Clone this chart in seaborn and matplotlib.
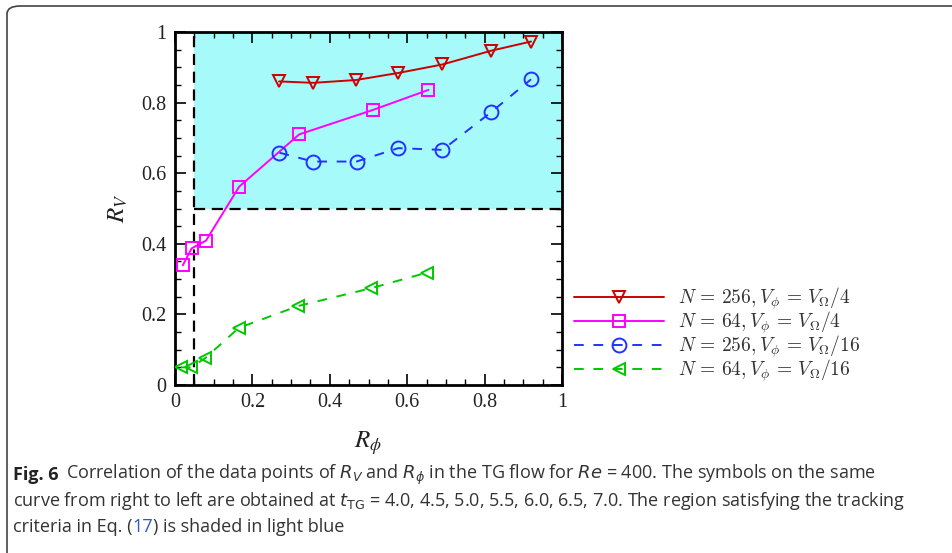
import numpy as np
import pandas as pd
import matplotlib
matplotlib.use("Agg")
import matplotlib.pyplot as plt
import seaborn as sns
from matplotlib.patches import FancyBboxPatch
from matplotlib.ticker import MultipleLocator, FuncFormatter

sns.set_theme(style="white")
plt.rcParams["font.family"] = ["Liberation Serif", "DejaVu Serif"]
plt.rcParams["mathtext.fontset"] = "stix"

# ---- data ----
red_x = [0.269, 0.357, 0.468, 0.577, 0.691, 0.817, 0.920]
red_y = [0.860, 0.856, 0.864, 0.884, 0.908, 0.947, 0.973]
mag_x = [0.020, 0.043, 0.080, 0.166, 0.321, 0.511, 0.655]
mag_y = [0.339, 0.387, 0.409, 0.562, 0.710, 0.779, 0.836]
blu_x = [0.270, 0.357, 0.469, 0.577, 0.691, 0.817, 0.920]
blu_y = [0.658, 0.633, 0.633, 0.671, 0.666, 0.773, 0.866]
grn_x = [0.015, 0.041, 0.078, 0.165, 0.319, 0.506, 0.650]
grn_y = [0.050, 0.050, 0.076, 0.162, 0.224, 0.274, 0.318]
labels = [r"$N\,=\,256, V_{\phi}\,=\,V_{\Omega}/4$",
          r"$N\,=\,64, V_{\phi}\,=\,V_{\Omega}/4$",
          r"$N\,=\,256, V_{\phi}\,=\,V_{\Omega}/16$",
          r"$N\,=\,64, V_{\phi}\,=\,V_{\Omega}/16$"]
x_thr = 0.05
y_thr = 0.5

fig = plt.figure(figsize=(9.52, 5.53), dpi=100)
ax = fig.add_axes([175/952, 1-385/553, 387/952, 353/553])

ax.fill_between([x_thr, 1.0], y_thr, 1.0, color="#a6fafa", zorder=0, lw=0)
ax.plot([x_thr, x_thr], [0, 1], color="black", lw=1.6, ls=(0, (5, 3)), zorder=1)
ax.plot([x_thr, 1], [y_thr, y_thr], color="black", lw=1.6, ls=(0, (5, 3)), zorder=1)

series = [
    (red_x, red_y, "#cc0000", "v", 9, "-"),
    (mag_x, mag_y, "#ff00ff", "s", 8, "-"),
    (blu_x, blu_y, "#2233ff", "o", 10, (0, (5, 5))),
    (grn_x, grn_y, "#00c800", "<", 9, (0, (5, 5))),
]
for (xs, ys, c, m, ms, ls), lab in zip(series, labels):
    df = pd.DataFrame({"x": xs, "y": ys})
    sns.lineplot(data=df, x="x", y="y", ax=ax, color=c, marker=m, markersize=ms,
                 markerfacecolor="none", markeredgecolor=c, markeredgewidth=1.4,
                 linestyle=ls, lw=1.4, estimator=None, sort=False, label=lab,
                 zorder=3)

ax.set_xlim(0, 1)
ax.set_ylim(0, 1)
fmt = FuncFormatter(lambda v, p: "0" if abs(v) < 1e-9 else ("1" if abs(v-1) < 1e-9 else f"{v:.1f}"))
ax.xaxis.set_major_locator(MultipleLocator(0.2))
ax.yaxis.set_major_locator(MultipleLocator(0.2))
ax.xaxis.set_minor_locator(MultipleLocator(0.05))
ax.yaxis.set_minor_locator(MultipleLocator(0.05))
ax.xaxis.set_major_formatter(fmt)
ax.yaxis.set_major_formatter(fmt)
ax.tick_params(which="both", direction="in", top=True, right=True, bottom=True, left=True,
               colors="black", labelcolor="#222222", labelsize=14.5)
ax.tick_params(which="major", length=8, width=1.2, pad=6)
ax.tick_params(which="minor", length=4, width=1.0)
for s in ax.spines.values():
    s.set_color("black")
    s.set_linewidth(2)

ax.set_xlabel(r"$R_{\phi}$", fontsize=18, labelpad=12, color="#222222")
ax.set_ylabel(r"$R_{V}$", fontsize=18, labelpad=8, color="#222222")

leg = ax.legend(loc="upper left", bbox_to_anchor=(1.012, 0.305), frameon=False,
                handlelength=4.6, fontsize=14, labelspacing=-0.12, handletextpad=0.75,
                borderaxespad=0)
for t in leg.get_texts():
    t.set_color("#333333")
    t.set_math_fontfamily("cm")

# outer frame (top and left edges visible)
frame = FancyBboxPatch((7/952, -0.1), 1.2, 1 - 6/553 + 0.1, transform=fig.transFigure,
                       boxstyle="round,pad=0,rounding_size=0.014", fill=False,
                       edgecolor="#444444", lw=1.2, clip_on=False)
fig.add_artist(frame)

# caption
cap_font = ["Open Sans", "DejaVu Sans"]
fs = 13.0
y1 = 1 - 475/553
t0 = fig.text(13/952, y1, "Fig. 6", fontsize=fs, fontweight="bold", family=cap_font,
              color="#222222", va="center")
fig.canvas.draw()
r = fig.canvas.get_renderer()
b0 = t0.get_window_extent(r)
fig.text((b0.x1 + 7)/952, y1,
         r"Correlation of the data points of $R_V$ and $R_{\phi}$ in the TG flow for $Re$ = 400. The symbols on the same",
         fontsize=fs, family=cap_font, color="#333333", va="center", math_fontfamily="dejavusans")
fig.text(13/952, 1 - 501/553,
         r"curve from right to left are obtained at $t_{\mathrm{TG}}$ = 4.0, 4.5, 5.0, 5.5, 6.0, 6.5, 7.0. The region satisfying the tracking",
         fontsize=fs, family=cap_font, color="#333333", va="center", math_fontfamily="dejavusans")
t3a = fig.text(13/952, 1 - 527/553, "criteria in Eq. (", fontsize=fs, family=cap_font,
               color="#333333", va="center")
fig.canvas.draw()
bb = t3a.get_window_extent(r)
t3b = fig.text(bb.x1/952, 1 - 527/553, "17", fontsize=fs, family=cap_font,
               color="#3355cc", va="center")
fig.canvas.draw()
bb2 = t3b.get_window_extent(r)
fig.text(bb2.x1/952, 1 - 527/553, ") is shaded in light blue", fontsize=fs,
         family=cap_font, color="#333333", va="center")

fig.savefig("out.png", dpi=100)
